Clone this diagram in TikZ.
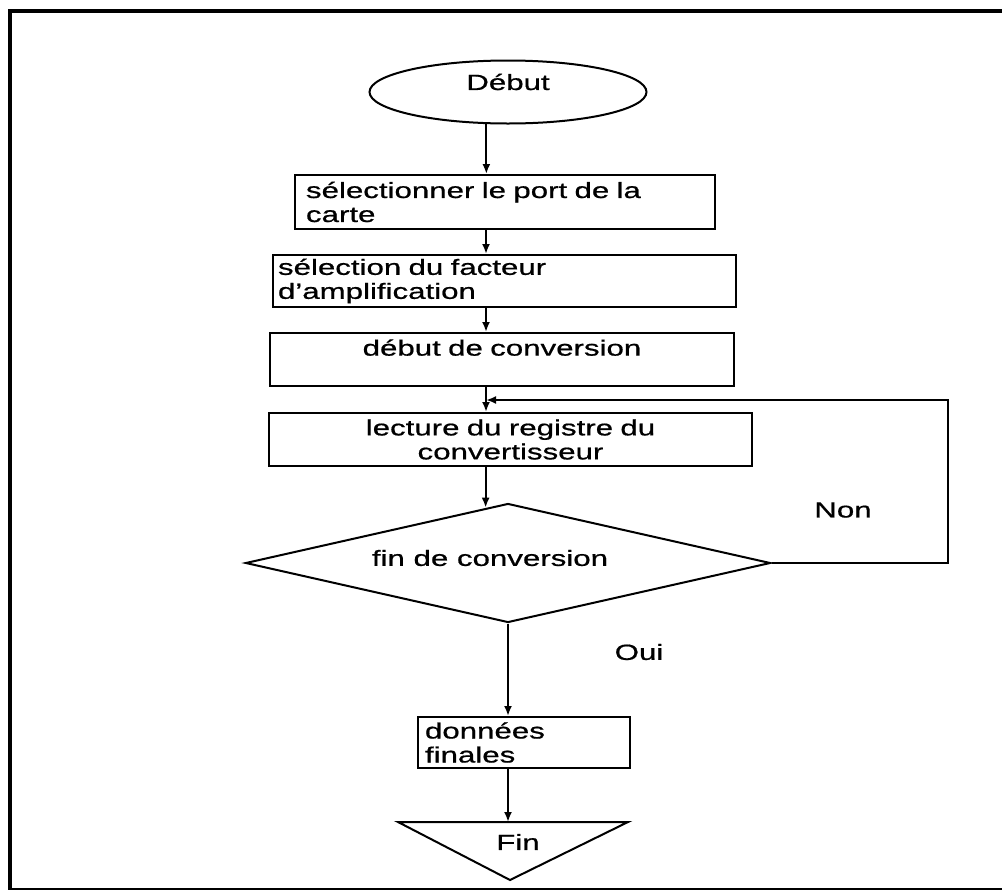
\documentclass[tikz,border=0pt]{standalone}
\usepackage{fontspec}
\setmainfont{Liberation Sans}[FakeStretch=1.42,FakeBold=0.7]
\usetikzlibrary{shapes.geometric,arrows.meta}
\begin{document}
\begin{tikzpicture}[x=1pt,y=-1pt,
  every node/.style={font=\fontsize{22}{24}\selectfont},
  lw/.style={line width=2pt},
  box/.style={draw, lw, inner ysep=0pt, minimum height=#1},
  box/.default=53pt,
  arr/.style={line width=2pt, -{Latex[length=10pt,width=8pt]}},
  lbl/.style={inner sep=0pt}
]
\useasboundingbox (0,0) rectangle (1002,892);
\fill[white] (0,0) rectangle (1002,892);
% outer frame
\draw[line width=4.5pt] (10,889) -- (10,11) -- (1002,11);
\draw[line width=2.5pt] (8,889) -- (1002,889);

% nodes
\node[ellipse, draw, lw, minimum width=277pt, minimum height=63pt, inner sep=0pt,
      label={[yshift=10pt]center:Début}] (debut) at (508,92) {};
\node[box=54pt, text width=398pt, inner xsep=11pt, align=left] (b1) at (505,202)
  {sélectionner le port de la\\carte};
\node[box=52pt, text width=453pt, inner xsep=5pt, align=left] (b2) at (504.5,281)
  {sélection du facteur\\d'amplification};
\node[box=53pt, text width=452pt, inner xsep=6pt, align=center] (b3) at (502,359.5)
  {début de conversion\\\mbox{}};
\node[box=53pt, text width=471pt, inner xsep=6pt, align=center] (b4) at (510.5,439.5)
  {lecture du registre du\\convertisseur};
\node[diamond, draw, lw, minimum width=525pt, minimum height=119pt, inner sep=0pt,
      label={[xshift=-18pt,yshift=5pt]center:fin de conversion}] (dec) at (508,563) {};
\node[box=51pt, text width=198pt, inner xsep=7pt, align=left] (b5) at (524,742.5)
  {données\\finales};

% end triangle
\coordinate (ftl) at (398,822);
\coordinate (ftr) at (628,822);
\coordinate (fap) at (510,880);
\coordinate (ftop) at (508,822);
\draw[lw, line join=miter] (ftl) -- (ftr) -- (fap) -- cycle;
\node[lbl] (fin) at (518,842) {Fin};

% labels
\node[lbl] (non) at (843,510) {Non};
\node[lbl] (oui) at (639,652) {Oui};

% connectors
\coordinate (col) at (486,0);
\draw[arr] (debut.-124) -- (debut.-124 |- b1.north);
\draw[arr] (b1.south -| col) -- (b2.north -| col);
\draw[arr] (b2.south -| col) -- (b3.north -| col);
\draw[arr] (b3.south -| col) -- (b4.north -| col);
\draw[arr] (b4.south -| dec.112) -- (dec.112);
\draw[arr] (dec.south) -- (dec.south |- b5.north);
\draw[arr] (b5.south -| ftop) -- (ftop);
\coordinate (fbr) at (948,400);
\coordinate (fbin) at (486,400);
\draw[arr] (dec.east) -| (fbr) -- (fbin);
\end{tikzpicture}
\end{document}
